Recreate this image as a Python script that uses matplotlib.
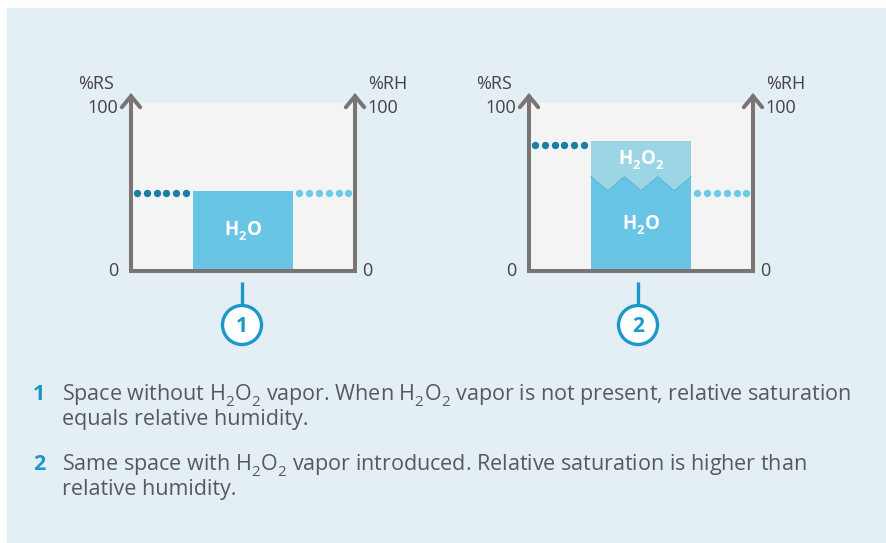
import numpy as np
import matplotlib
matplotlib.use("Agg")
import matplotlib.pyplot as plt
from matplotlib.patches import Rectangle, Circle, Polygon
from matplotlib.transforms import offset_copy

try:
    import matplotlib._mathtext as _mt
    _mt.FontConstantsBase.sub1 = 0.5
    _mt.FontConstantsBase.sub2 = 0.6
except Exception:
    pass

FONT = 'Open Sans'
plt.rcParams['font.family'] = [FONT, 'DejaVu Sans']
plt.rcParams['mathtext.fontset'] = 'custom'
plt.rcParams['mathtext.rm'] = FONT
plt.rcParams['mathtext.it'] = FONT + ':italic'
plt.rcParams['mathtext.bf'] = FONT + ':bold'

# ---------------- data ----------------
panels = ["1", "2"]
rs_values = [46.5, 75.0]          # relative saturation (%RS, left axis)
rh_values = [46.5, 46.5]          # relative humidity (%RH, right axis)
h2o_values = [47.5, 47.5]         # water vapour bar level
h2o2_top = [None, 77.5]           # top of H2O2 layer (panel 2 only)
wave_peak = [None, 56.0]          # crest of H2O/H2O2 interface
y_ticks = [0, 100]
left_title = "%RS"
right_title = "%RH"
captions = [
    ["Space without H$_{\\mathregular{2}}$O$_{\\mathregular{2}}$ vapor. When H$_{\\mathregular{2}}$O$_{\\mathregular{2}}$ vapor is not present, relative saturation",
     "equals relative humidity."],
    ["Same space with H$_{\\mathregular{2}}$O$_{\\mathregular{2}}$ vapor introduced. Relative saturation is higher than",
     "relative humidity."],
]

# ---------------- style ----------------
BG = "#E4EEF5"
PLOT_BG = "#F4F4F4"
AXIS = "#7A7574"
H2O_C = "#68C5E6"
H2O2_C = "#9CD5E4"
DARK_DOT = "#1A7EA7"
LIGHT_DOT = "#6DCBEA"
CALLOUT = "#1B98C9"
TEXT = "#58595B"
LABEL = "#444444"

W, H = 886, 543
fig = plt.figure(figsize=(W / 100, H / 100), dpi=100, facecolor="white")
fig.add_artist(Rectangle((7 / W, 0), (W - 7) / W, (H - 8) / H,
                         transform=fig.transFigure, color=BG, zorder=-10))

ov = fig.add_axes([0, 0, 1, 1], zorder=5)
ov.set_xlim(0, W)
ov.set_ylim(H, 0)
ov.axis("off")
ov.patch.set_alpha(0)

shift = 398
bottom_px, top_px = 270.5, 103.0
lw_axis = 2.9
LFS = 13

for i, p in enumerate(panels):
    Lpx = 131 + shift * i
    Rpx = 355 + shift * i
    ax = fig.add_axes([Lpx / W, (H - bottom_px) / H, (Rpx - Lpx) / W, (bottom_px - top_px) / H])
    ax.set_xlim(0, 1)
    ax.set_ylim(0, 100)
    ax.set_facecolor(PLOT_BG)
    for s in ax.spines.values():
        s.set_visible(False)
    ax.set_xticks([])
    ax.set_yticks([])

    bx0, bw = 0.277, 0.446
    if h2o2_top[i] is None:
        ax.bar(bx0 + bw / 2, h2o_values[i], width=bw, color=H2O_C, zorder=2)
        ax.text(bx0 + bw / 2, h2o_values[i] * 0.49, r"$\mathbf{H_2O}$", color="white",
                ha="center", va="center", fontsize=13.5, zorder=4)
    else:
        ax.bar(bx0 + bw / 2, h2o2_top[i], width=bw, color=H2O2_C, zorder=2)
        n = 3
        xs = np.linspace(bx0, bx0 + bw, 2 * n + 1)
        ys = np.where(np.arange(2 * n + 1) % 2 == 0, wave_peak[i], h2o_values[i])
        poly = np.vstack([[bx0, 0], np.column_stack([xs, ys]), [bx0 + bw, 0]])
        ax.add_patch(Polygon(poly, closed=True, color=H2O_C, zorder=3, lw=0))
        ax.plot(xs, ys, color="#5DB8D8", lw=0.8, zorder=3)
        ax.text(bx0 + bw / 2, h2o_values[i] * 0.57, r"$\mathbf{H_2O}$", color="white",
                ha="center", va="center", fontsize=13.5, zorder=4)
        ax.text(bx0 + bw / 2, (wave_peak[i] + h2o2_top[i]) / 2 - 1.0, r"$\mathbf{H_2O_2}$",
                color="white", ha="center", va="center", fontsize=13.5, zorder=4)

    ax.scatter(np.linspace(0.028, 0.245, 6), [rs_values[i]] * 6, s=28, color=DARK_DOT,
               zorder=3, lw=0)
    ax.scatter(np.linspace(0.752, 0.970, 6), [rh_values[i]] * 6, s=28, color=LIGHT_DOT,
               zorder=3, lw=0)

    ax.plot([0, 1], [0, 0], color=AXIS, lw=lw_axis, solid_capstyle="projecting",
            clip_on=False, zorder=5)
    for xa in (0, 1):
        ax.plot([xa, xa], [0, 104], color=AXIS, lw=lw_axis, clip_on=False, zorder=5,
                solid_capstyle="butt")
        ax.annotate("", xy=(xa, 106), xytext=(xa, 98), annotation_clip=False,
                    arrowprops=dict(arrowstyle="->,head_length=0.4,head_width=0.33",
                                    color=AXIS, lw=lw_axis, mutation_scale=20,
                                    shrinkA=0, shrinkB=0, joinstyle="miter"),
                    zorder=5)

    ytr = ax.get_yaxis_transform()
    for t in y_ticks:
        dy = -5 if t == 100 else -1
        ax.text(0, t, str(t), transform=offset_copy(ytr, fig=fig, x=-13, y=dy, units="dots"),
                ha="right", va="center", fontsize=LFS, color=LABEL)
        ax.text(1, t, str(t), transform=offset_copy(ytr, fig=fig, x=7 if t == 0 else 12, y=dy, units="dots"),
                ha="left", va="center", fontsize=LFS, color=LABEL)
    ov.text(Lpx - 17, 84, left_title, ha="right", va="center", fontsize=LFS, color=LABEL)
    ov.text(Rpx + 13, 84, right_title, ha="left", va="center", fontsize=LFS, color=LABEL)

    cx = 242 + shift * i - (2 if i else 0)
    ov.plot([cx, cx], [282, 305], color=CALLOUT, lw=2.4, solid_capstyle="butt")
    ov.add_patch(Circle((cx, 325), 19.5, facecolor="white", edgecolor=CALLOUT, lw=2.4))
    ov.text(cx, 326, p, ha="center", va="center", fontsize=15, fontweight="bold",
            color=CALLOUT)

base = [(400, 425), (470, 495)]
fs0 = 13.5
probe = ov.text(62, base[0][0], captions[0][0], fontsize=fs0)
fig.canvas.draw()
wpx = probe.get_window_extent(fig.canvas.get_renderer()).width
probe.remove()
fs = fs0 * 791.0 / wpx
for k, (num, lines) in enumerate(zip(panels, captions)):
    ov.text(33, base[k][0], num, ha="left", va="baseline", fontsize=fs,
            fontweight="bold", color=CALLOUT)
    for j, line in enumerate(lines):
        ov.text(62, base[k][j], line, ha="left", va="baseline", fontsize=fs, color=TEXT)

fig.savefig("out.png", dpi=100, facecolor=fig.get_facecolor())
